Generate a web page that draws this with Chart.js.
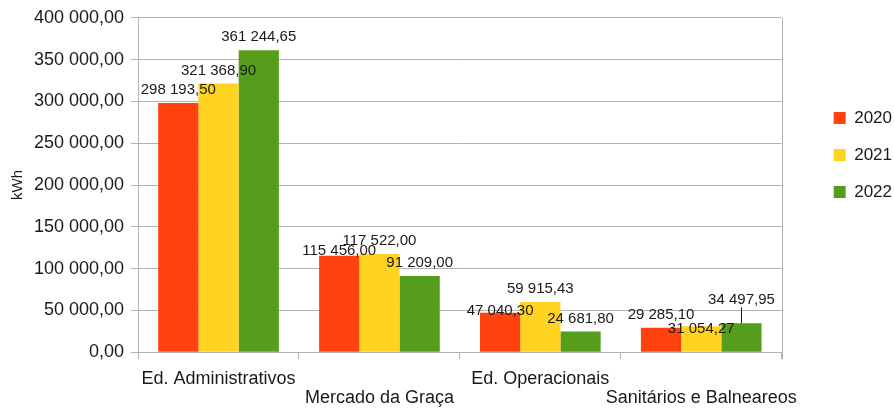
<!DOCTYPE html>
<html>
<head>
<meta charset="utf-8">
<script src="https://cdn.jsdelivr.net/npm/chart.js@4"></script>
<style>
  html, body { margin: 0; padding: 0; background: #fff; }
  #wrap { width: 894px; height: 410px; }
</style>
</head>
<body>
<div id="wrap"><canvas id="myChart"></canvas></div>
<script>
var categories = ["Ed. Administrativos", "Mercado da Graça", "Ed. Operacionais", "Sanitários e Balneareos"];
var years = ["2020", "2021", "2022"];
var values2020 = [298193.50, 115456.00, 47040.30, 29285.10];
var values2021 = [321368.90, 117522.00, 59915.43, 31054.27];
var values2022 = [361244.65, 91209.00, 24681.80, 34497.95];
var barColors = ["#ff420e", "#ffd320", "#579d1c"];

function fmt(v) {
  var parts = v.toFixed(2).split(".");
  return parts[0].replace(/\B(?=(\d{3})+(?!\d))/g, " ") + "," + parts[1];
}

// shift of some labels (px, + = down), like the original overlap avoidance
var labelShift = { "0,1": 8, "0,2": 11, "1,3": 16, "2,3": -11 };
var leaders = { "2,3": true };

const valueLabels = {
  id: 'valueLabels',
  afterDatasetsDraw(chart) {
    const ctx = chart.ctx;
    ctx.save();
    ctx.font = "15px 'Liberation Sans', Arial, sans-serif";
    ctx.fillStyle = "#1a1a1a";
    ctx.textAlign = "center";
    ctx.textBaseline = "middle";
    chart.data.datasets.forEach(function (ds, d) {
      chart.getDatasetMeta(d).data.forEach(function (bar, i) {
        var key = d + "," + i;
        var y = bar.y - 13 + (labelShift[key] || 0);
        ctx.fillText(fmt(ds.data[i]), bar.x, y);
        if (leaders[key]) {
          ctx.strokeStyle = "#1a1a1a";
          ctx.lineWidth = 1;
          ctx.beginPath();
          ctx.moveTo(Math.round(bar.x) + 0.5, y + 8);
          ctx.lineTo(Math.round(bar.x) + 0.5, bar.y);
          ctx.stroke();
        }
      });
    });
    ctx.restore();
  }
};

const rightBorder = {
  id: 'rightBorder',
  afterDraw(chart) {
    const a = chart.chartArea, ctx = chart.ctx;
    ctx.save();
    ctx.strokeStyle = "#b3b3b3";
    ctx.lineWidth = 1;
    ctx.beginPath();
    ctx.moveTo(Math.round(a.right) + 0.5, a.top);
    ctx.lineTo(Math.round(a.right) + 0.5, a.bottom + 7);
    ctx.stroke();
    ctx.restore();
  }
};

const ctx = document.getElementById('myChart').getContext('2d');
let myChart = new Chart(ctx, {
  type: "bar",
  data: {
    labels: categories,
    datasets: [
      { label: years[0], data: values2020, backgroundColor: barColors[0] },
      { label: years[1], data: values2021, backgroundColor: barColors[1] },
      { label: years[2], data: values2022, backgroundColor: barColors[2] }
    ]
  },
  options: {
    responsive: true,
    maintainAspectRatio: false,
    animation: false,
    categoryPercentage: 0.75,
    barPercentage: 1,
    layout: { padding: { top: 10, left: 1, right: -8, bottom: -7 } },
    scales: {
      y: {
        min: 0,
        max: 400000,
        ticks: {
          stepSize: 50000,
          color: "#1a1a1a",
          font: { family: "'Liberation Sans'", size: 18 },
          padding: 7,
          callback: function (v) { return fmt(v); }
        },
        grid: { color: "#b3b3b3", tickLength: 7 },
        border: { color: "#b3b3b3" },
        title: {
          display: true,
          text: "kWh",
          color: "#1a1a1a",
          font: { family: "'Liberation Sans'", size: 15 },
          padding: { top: 8, bottom: 0 }
        }
      },
      // empty spacer between plot and legend
      spacer: {
        position: 'right',
        display: true,
        grid: { display: false },
        border: { display: false },
        ticks: { display: false },
        afterFit: function (s) { s.width = 32; }
      },
      x: {
        grid: { offset: true, drawOnChartArea: false, color: "#b3b3b3", tickLength: 7 },
        border: { color: "#b3b3b3" },
        ticks: {
          autoSkip: false,
          maxRotation: 0,
          color: "#1a1a1a",
          padding: 10,
          font: { family: "'Liberation Sans'", size: 18, lineHeight: 1.05 },
          callback: function (v, i) {
            var l = categories[i];
            return i % 2 ? ["", l] : l;
          }
        }
      }
    },
    plugins: {
      legend: {
        position: 'right',
        align: 'start',
        title: { display: true, text: "", padding: { top: 65, bottom: 0 } },
        labels: {
          boxWidth: 12,
          boxHeight: 12,
          padding: 20,
          color: "#1a1a1a",
          font: { family: "'Liberation Sans'", size: 17 }
        }
      },
      tooltip: { enabled: false }
    }
  },
  plugins: [valueLabels, rightBorder]
});
</script>
</body>
</html>
